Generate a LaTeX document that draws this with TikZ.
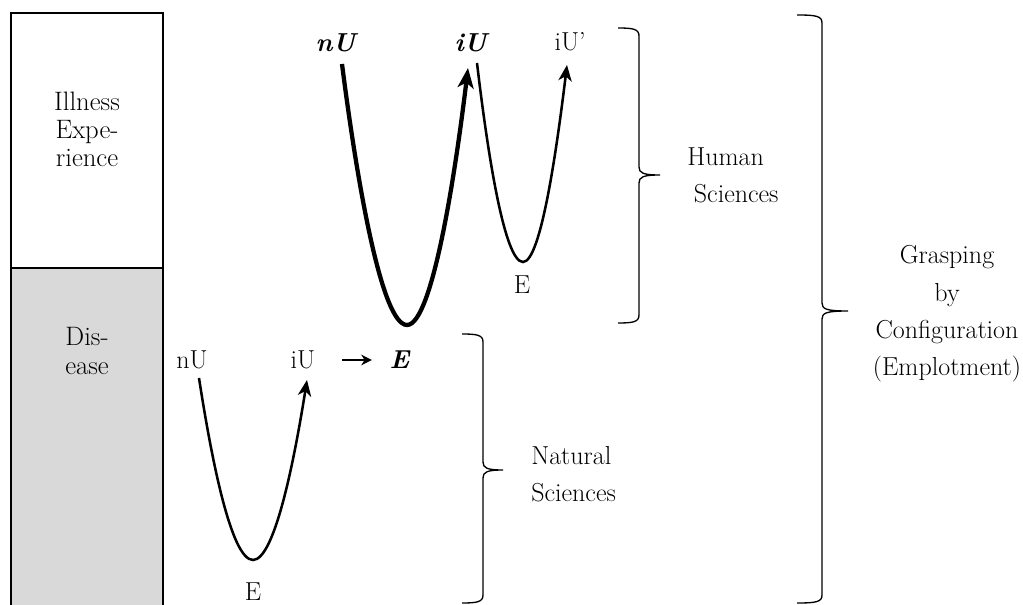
\documentclass[tikz,border=0pt]{standalone}
\usepackage{amsmath,amssymb}
\usepackage{tikz}
\usetikzlibrary{arrows.meta}
\definecolor{DiseaseGray}{RGB}{217,217,217}
\tikzset{
  lbl/.style={font=\fontsize{19.5}{28}\selectfont,inner sep=1pt},
  boxlbl/.style={font=\fontsize{20}{21}\selectfont,align=center},
  sidelbl/.style={font=\fontsize{19.5}{28}\selectfont,inner sep=0pt},
  thickpath/.style={line width=3.2pt,-{Stealth[length=15pt,width=12pt,inset=4pt]}},
  thinpath/.style={line width=1.9pt,-{Stealth[length=12pt,width=10pt,inset=3.5pt]}},
  bracepath/.style={line width=1pt},
}
% end x, line x, tip x, top y, middle y, bottom y
\newcommand{\sidebrace}[6]{%
  \draw[bracepath] (#1,#4) .. controls (#2-6,#4) and (#2,#4+1) .. (#2,#4+8)
    -- (#2,#5-8) .. controls (#2,#5-2) and (#2+4,#5) .. (#3,#5)
    .. controls (#2+4,#5) and (#2,#5+2) .. (#2,#5+8)
    -- (#2,#6-8) .. controls (#2,#6-1) and (#2-6,#6) .. (#1,#6);}

\begin{document}
\begin{tikzpicture}[x=0.75pt,y=-0.75pt]
\useasboundingbox (0,0) rectangle (1023,605);
% left column
\draw[line width=0.8pt] (11,13) rectangle (163,268);
\draw[line width=0.8pt,fill=DiseaseGray] (11,268) rectangle (163,607);
\node[boxlbl] (ill) at (87,129) {Illness\\Expe-\\rience};
\node[boxlbl] (dis) at (87,351) {Dis-\\ease};
% upper curves
\node[lbl] (nUt) at (337,43) {\textbf{\textit{nU}}};
\node[lbl] (iUt) at (472,43) {\textbf{\textit{iU}}};
\node[lbl] (iUq) at (570,42) {iU’};
\node[lbl] (Et) at (522,285) {E};
\coordinate (w1) at (342,64);
\coordinate (w2) at (407,325);
\coordinate (w3) at (468,68);
\draw[thickpath] (w1) .. controls +(14,110) and +(-26,0) .. (w2)
  .. controls +(25,0) and +(-13,108) .. (w3);
\coordinate (v1) at (477,63);
\coordinate (v2) at (523,262);
\coordinate (v3) at (567,65);
\draw[thinpath] (v1) .. controls +(10,85) and +(-19,0) .. (v2)
  .. controls +(18,0) and +(-10,82) .. (v3);
% lower curve
\node[lbl] (nUb) at (192,360) {nU};
\node[lbl] (iUb) at (303,360) {iU};
\node[lbl] (Eb) at (400,360) {\textbf{\textit{E}}};
\node[lbl] (Ebot) at (253,592) {E};
\draw[line width=1pt,-{Stealth[length=8pt,width=8pt,inset=2.5pt]},
  shorten <=19pt,shorten >=12pt] (iUb) -- (Eb);
\coordinate (u1) at (199,378);
\coordinate (u2) at (253,560);
\coordinate (u3) at (307,380);
\draw[thinpath] (u1) .. controls +(12,78) and +(-22,0) .. (u2)
  .. controls +(22,0) and +(-12,76) .. (u3);
% braces
\sidebrace{618}{639}{660}{28}{175}{323}
\sidebrace{462}{483}{503}{334}{470}{603}
\sidebrace{797}{822}{848}{15}{311}{603}
\node[sidelbl,align=left,anchor=west] (hum) at (687,175) {Human\\\hspace{5pt}Sciences};
\node[sidelbl,align=left,anchor=west] (nat) at (531,474) {Natural\\Sciences};
\node[sidelbl,align=center] (grasp) at (947,314) {Grasping\\by\\Configuration\\(Emplotment)};
\end{tikzpicture}
\end{document}
